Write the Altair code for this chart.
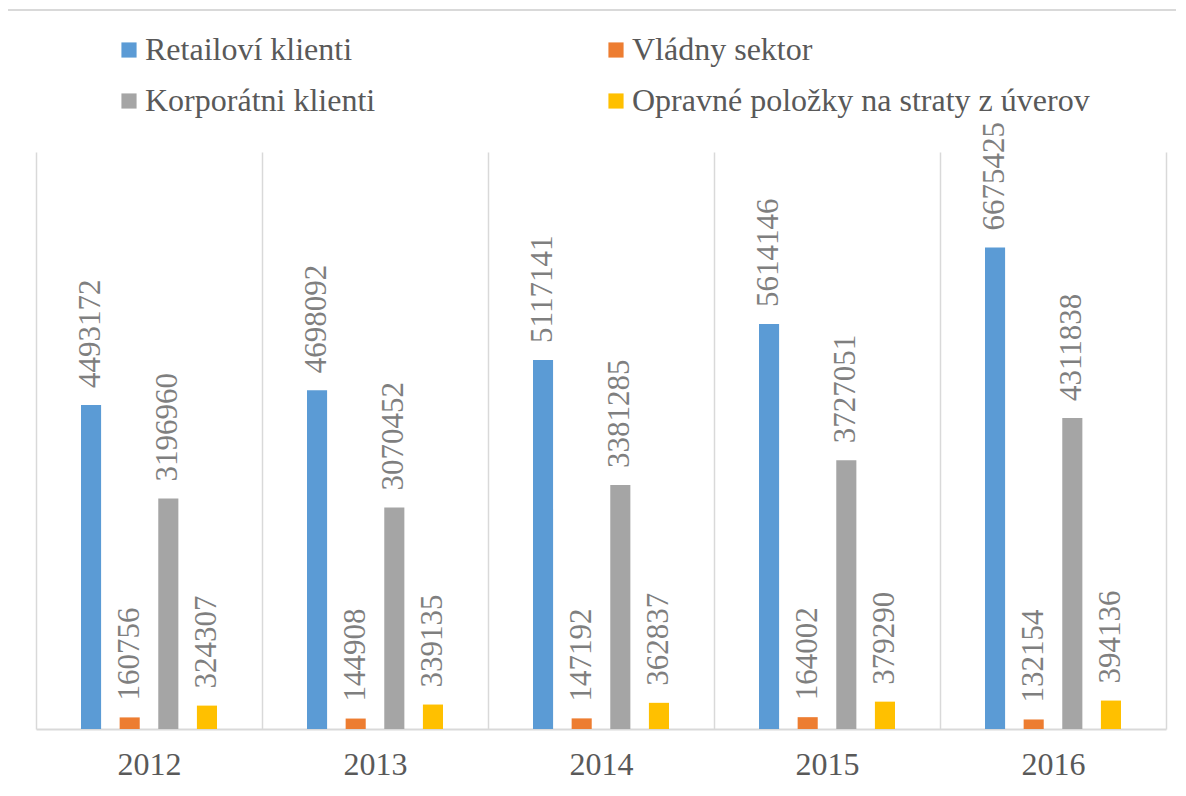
import altair as alt
import pandas as pd

years = ["2012", "2013", "2014", "2015", "2016"]
series = ["Retailoví klienti", "Vládny sektor", "Korporátni klienti",
          "Opravné položky na straty z úverov"]
legend_order = ["Retailoví klienti", "Korporátni klienti", "Vládny sektor",
                "Opravné položky na straty z úverov"]
colors = {"Retailoví klienti": "#5B9BD5", "Vládny sektor": "#ED7D31",
          "Korporátni klienti": "#A5A5A5",
          "Opravné položky na straty z úverov": "#FFC000"}
retail = [4493172, 4698092, 5117141, 5614146, 6675425]
vladny = [160756, 144908, 147192, 164002, 132154]
korpor = [3196960, 3070452, 3381285, 3727051, 4311838]
opravne = [324307, 339135, 362837, 379290, 394136]

rows = []
for name, vals in zip(series, [retail, vladny, korpor, opravne]):
    for y, v in zip(years, vals):
        rows.append({"year": y, "series": name, "value": v})
df = pd.DataFrame(rows)

W, H = 1130, 577
FONT = "'Liberation Serif', 'Times New Roman', Times, 'DejaVu Serif', serif"

x = alt.X("year:N", sort=years, title=None,
          scale=alt.Scale(paddingInner=0, paddingOuter=0),
          axis=alt.Axis(tickBand="extent", grid=True, gridColor="#d9d9d9",
                        gridWidth=1.5, ticks=False, domainColor="#d9d9d9",
                        domainWidth=2, labelAngle=0, labelFont=FONT,
                        labelFontSize=32, labelColor="#595959",
                        labelPadding=20))
xo = alt.XOffset("series:N", sort=series,
                 scale=alt.Scale(paddingInner=0.48, paddingOuter=0,
                                 range=[45, 181]))
y = alt.Y("value:Q", scale=alt.Scale(domain=[0, 8000000]), axis=None)

base = alt.Chart(df)

bars = base.mark_bar().encode(
    x=x, xOffset=xo, y=y,
    color=alt.Color("series:N", sort=legend_order,
                    scale=alt.Scale(domain=legend_order,
                                    range=[colors[s] for s in legend_order]),
                    legend=alt.Legend(title=None, orient="none", legendX=77,
                                      legendY=-118, columns=2,
                                      columnPadding=224, rowPadding=19,
                                      symbolType="square", symbolSize=230,
                                      symbolStrokeWidth=0, labelFont=FONT,
                                      labelFontSize=32, labelColor="#595959",
                                      labelOffset=0, labelLimit=800,
                                      padding=0)),
)

labels = base.mark_text(angle=270, align="left", baseline="middle", dx=17,
                        font=FONT, fontSize=31, color="#7f7f7f").encode(
    x=x, xOffset=xo, y=y, text=alt.Text("value:Q", format="d"),
)

border = alt.Chart(pd.DataFrame({"a": [0]})).mark_rect(
    fill=None, stroke="#d9d9d9", strokeWidth=2
).encode(x=alt.value(-30), x2=alt.value(W + 40),
         y=alt.value(-142), y2=alt.value(H + 120))

chart = alt.layer(border, bars, labels).properties(
    width=W, height=H,
    autosize=alt.AutoSizeParams(type="none"),
    padding={"left": 28, "top": 144, "right": 10, "bottom": 58},
).configure_view(stroke=None)

chart.save("out.html", embed_options={"renderer": "svg", "actions": False})
